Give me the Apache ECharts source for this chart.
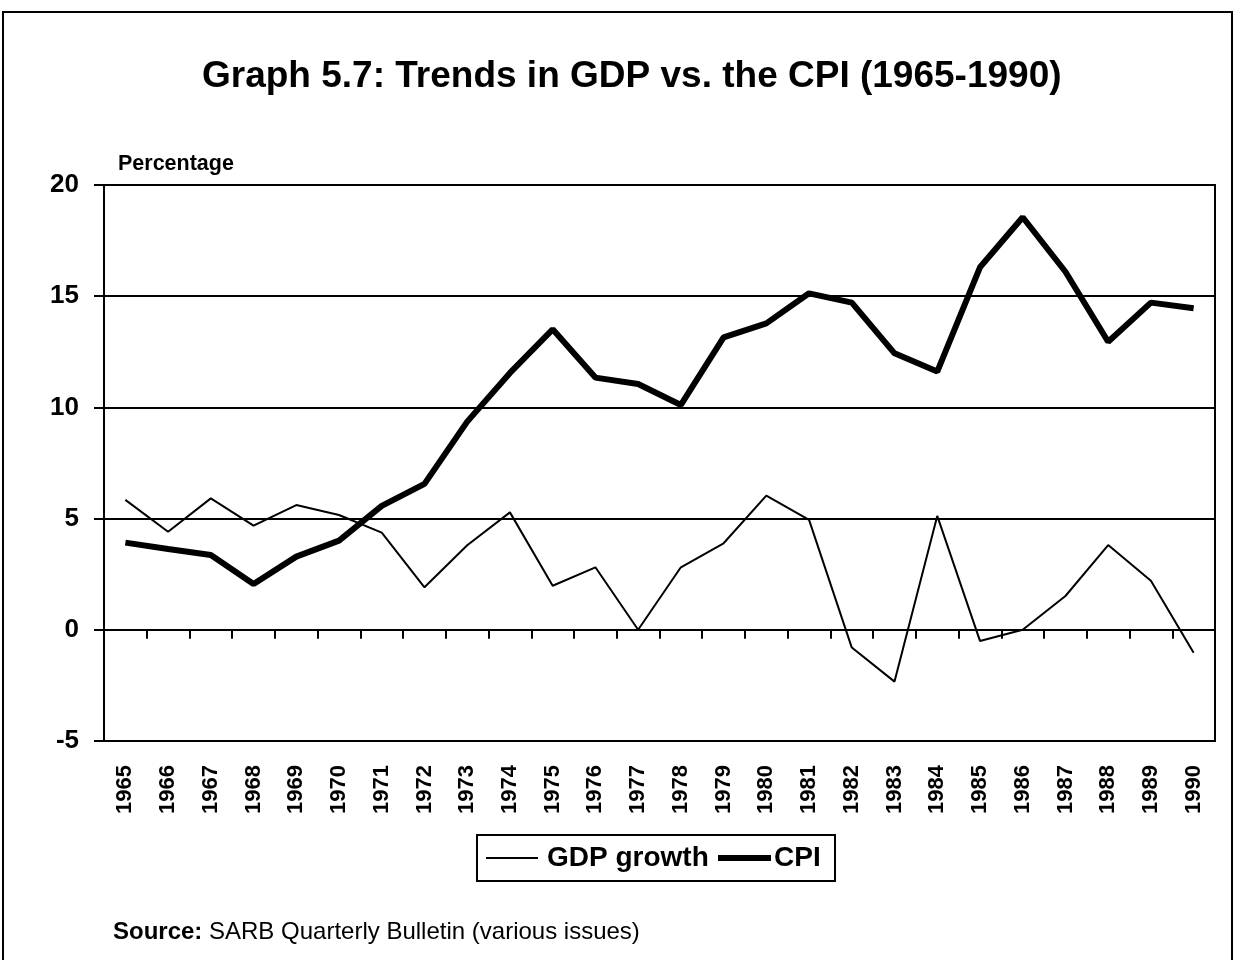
<!DOCTYPE html>
<html>
<head>
<meta charset="utf-8">
<script src="https://cdn.jsdelivr.net/npm/echarts@6/dist/echarts.min.js"></script>
<style>
html,body{margin:0;padding:0;background:#fff;}
#chart{width:1236px;height:960px;}
</style>
</head>
<body>
<div id="chart"></div>
<script>
var years = ['1965','1966','1967','1968','1969','1970','1971','1972','1973','1974','1975','1976','1977','1978','1979','1980','1981','1982','1983','1984','1985','1986','1987','1988','1989','1990'];
var gdpGrowth = [5.84,4.41,5.91,4.68,5.61,5.16,4.37,1.91,3.8,5.28,1.98,2.81,0.0,2.81,3.89,6.03,4.94,-0.8,-2.33,5.12,-0.5,0.0,1.52,3.81,2.21,-1.03];
var cpi = [3.92,3.63,3.36,2.06,3.29,4.01,5.57,6.56,9.36,11.55,13.51,11.34,11.05,10.11,13.15,13.78,15.13,14.71,12.43,11.61,16.3,18.55,16.1,12.95,14.71,14.46];
var yTicks = {min:-5, max:20, interval:5};
var seriesNames = ['GDP growth','CPI'];

var FONT = "'Liberation Sans', Arial, Helvetica, sans-serif";
var chart = echarts.init(document.getElementById('chart'), null, {renderer:'canvas'});
chart.setOption({
  backgroundColor:'#fff',
  animation:false,
  title:{
    text:'Graph 5.7: Trends in GDP vs. the CPI (1965-1990)',
    left:197, top:53,
    textStyle:{fontFamily:FONT, fontWeight:'bold', fontSize:37, color:'#000'}
  },
  graphic:[
    {type:'rect', shape:{x:3,y:12,width:1229,height:1000}, style:{fill:'none', stroke:'#000', lineWidth:2}, silent:true},
    {type:'text', left:118, top:153, style:{text:'Percentage', font:"bold 21.5px "+FONT, fill:'#000'}},
    {type:'text', left:113, top:920, style:{
      text:'{b|Source:} SARB Quarterly Bulletin (various issues)',
      rich:{b:{fontWeight:'bold', fontSize:24, fontFamily:FONT, fill:'#000'}},
      font:"24px "+FONT, fill:'#000'}},
    {type:'group', left:476, top:834, children:[
      {type:'rect', shape:{x:0,y:0,width:358,height:46}, style:{fill:'#fff', stroke:'#000', lineWidth:2}},
      {type:'line', shape:{x1:9,y1:23,x2:61,y2:23}, style:{stroke:'#000', lineWidth:2}},
      {type:'text', x:70, y:23, style:{text:seriesNames[0], font:"bold 28px "+FONT, fill:'#000', textVerticalAlign:'middle', verticalAlign:'middle'}},
      {type:'line', shape:{x1:241,y1:23,x2:294,y2:23}, style:{stroke:'#000', lineWidth:6}},
      {type:'text', x:297, y:23, style:{text:seriesNames[1], font:"bold 28px "+FONT, fill:'#000', textVerticalAlign:'middle', verticalAlign:'middle'}}
    ]}
  ],
  grid:{left:104, top:185, right:21, bottom:219, show:true, borderColor:'#000', borderWidth:2, backgroundColor:'transparent', containLabel:false},
  xAxis:[
    {type:'category', data:years, boundaryGap:true, position:'bottom',
     axisLine:{show:false, onZero:false}, axisTick:{show:false}, splitLine:{show:false},
     axisLabel:{rotate:90, margin:24, interval:0, fontFamily:FONT, fontWeight:'bold', fontSize:22, color:'#000'}},
    {type:'category', data:years, boundaryGap:true, position:'bottom',
     axisLine:{show:true, onZero:true, lineStyle:{color:'#000', width:2}},
     axisTick:{show:true, length:9, interval:0, lineStyle:{color:'#000', width:2}},
     axisLabel:{show:false}, splitLine:{show:false}}
  ],
  yAxis:{
    type:'value', min:yTicks.min, max:yTicks.max, interval:yTicks.interval,
    axisLine:{show:true, lineStyle:{color:'#000', width:2}},
    axisTick:{show:true, length:10, lineStyle:{color:'#000', width:2}},
    splitLine:{show:true, lineStyle:{color:'#000', width:2}},
    axisLabel:{margin:25, fontFamily:FONT, fontWeight:'bold', fontSize:26, color:'#000'}
  },
  series:[
    {name:seriesNames[0], type:'line', data:gdpGrowth, xAxisIndex:0, symbol:'none',
     lineStyle:{color:'#000', width:2}, itemStyle:{color:'#000'}},
    {name:seriesNames[1], type:'line', data:cpi, xAxisIndex:0, symbol:'none',
     lineStyle:{color:'#000', width:6}, itemStyle:{color:'#000'}}
  ]
});
</script>
</body>
</html>
